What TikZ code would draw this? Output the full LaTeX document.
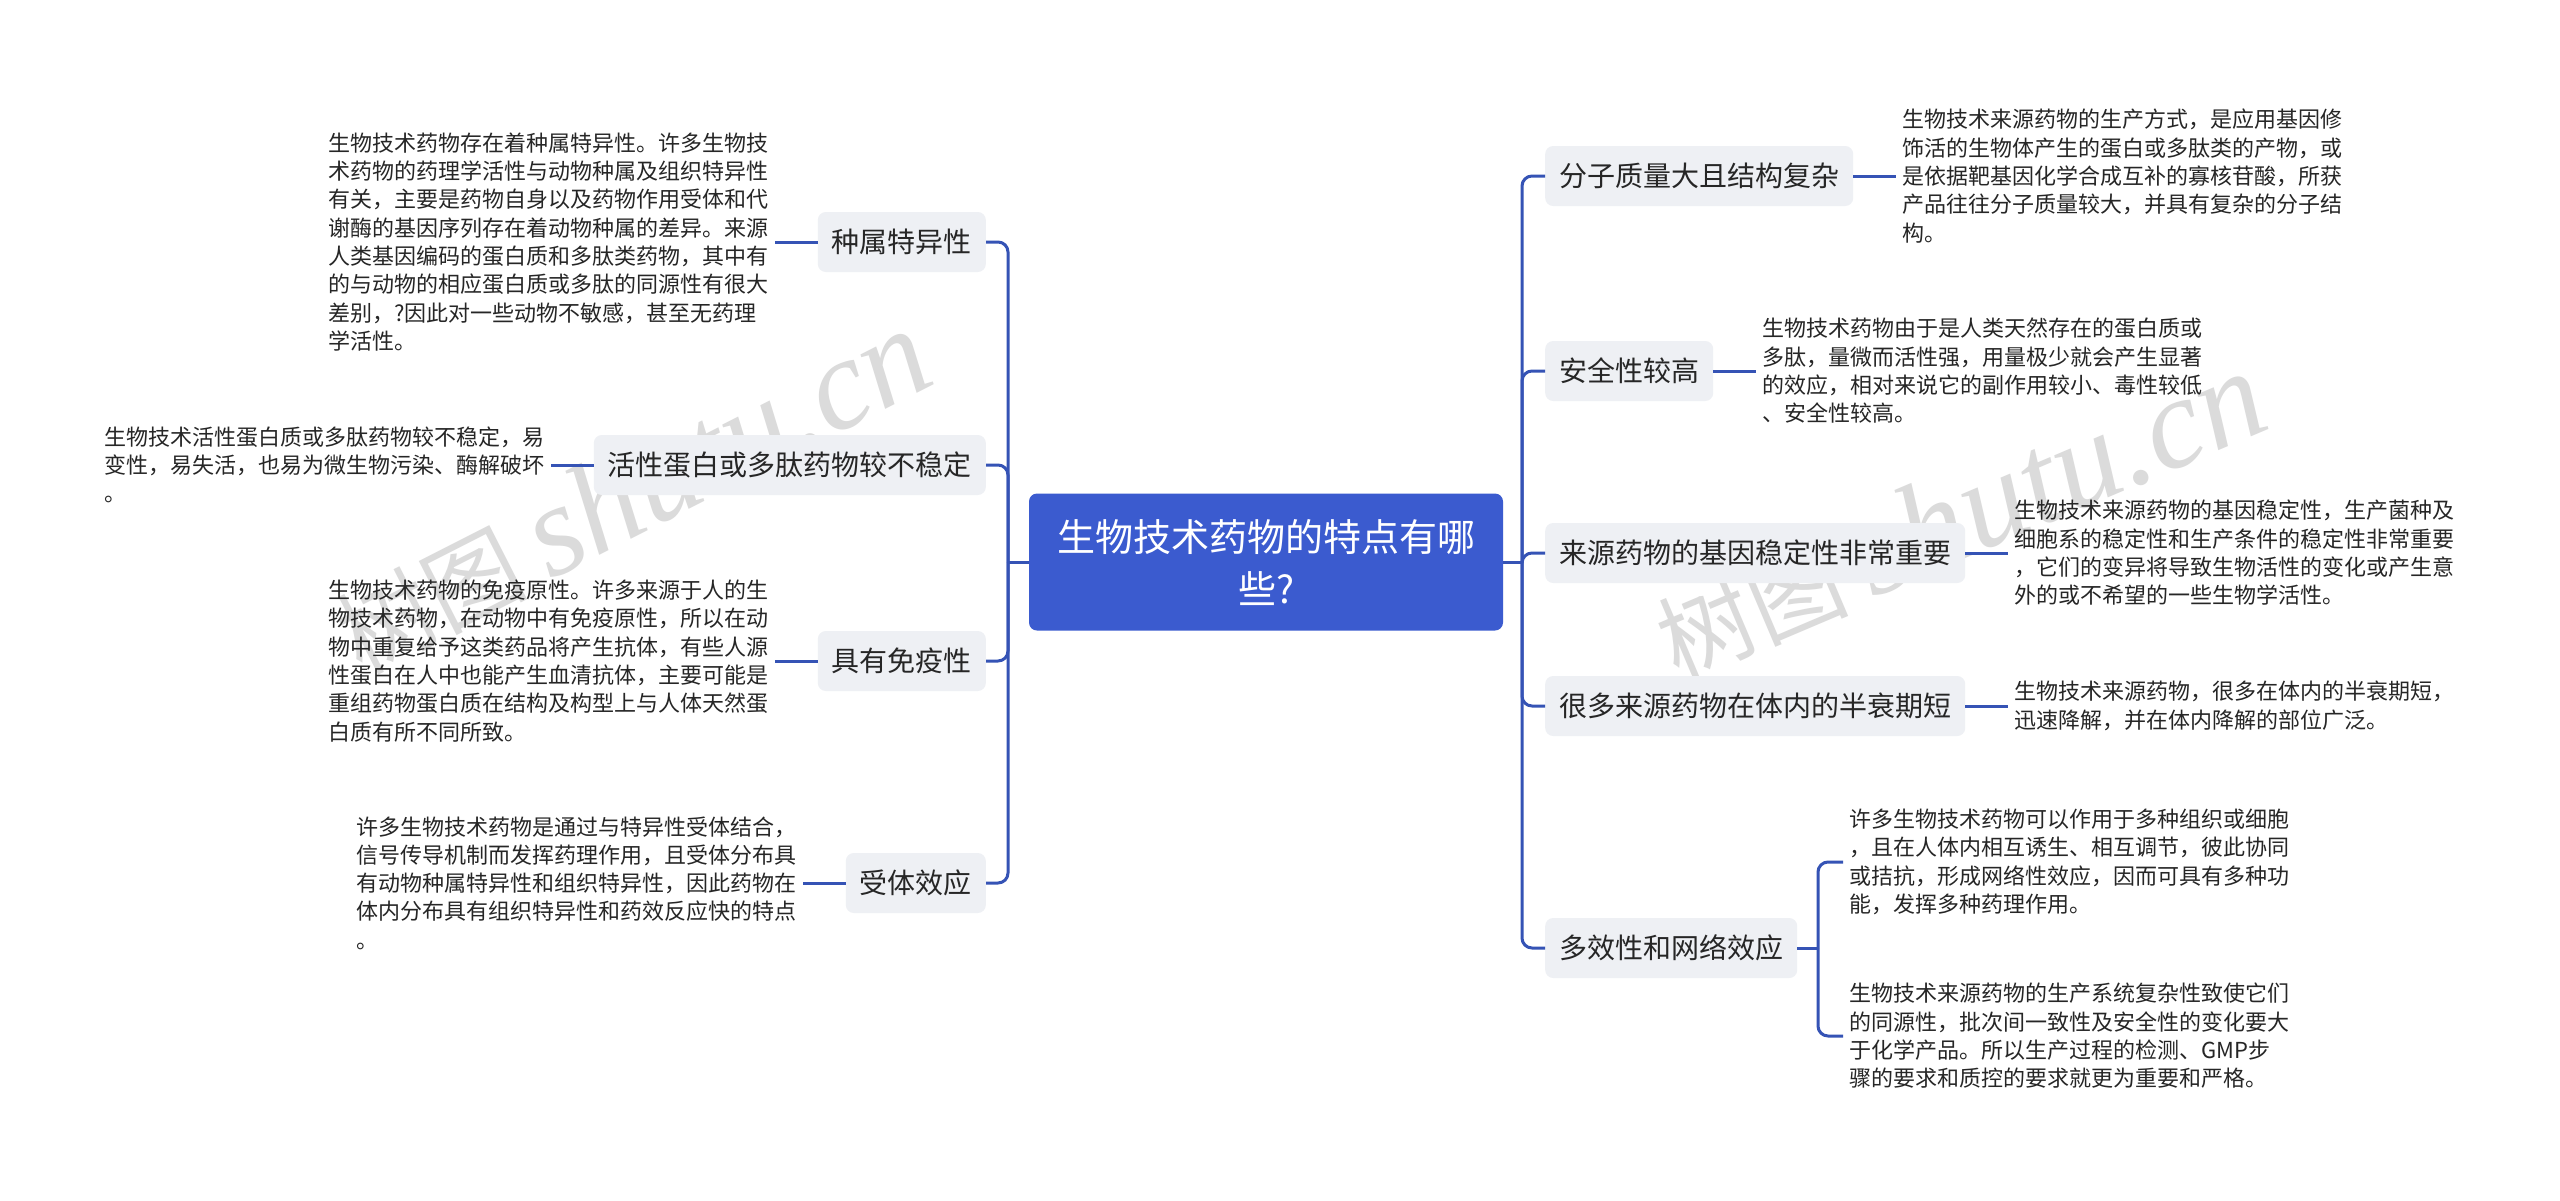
\documentclass[tikz,border=0pt]{standalone}
\usepackage{fontspec}
\setmainfont{Noto Sans CJK SC}
\newfontfamily\wmfont{Liberation Serif}
\usepackage{xcolor}
\usetikzlibrary{positioning}
\definecolor{rootblue}{HTML}{3B5BCF}
\definecolor{linkblue}{HTML}{3553B5}
\definecolor{catgray}{HTML}{EEF0F4}
\definecolor{txtgray}{HTML}{262626}

\begin{document}
\begin{tikzpicture}[
  x=1pt, y=-1pt,
  node distance = 43pt,
  root/.style  = {fill=rootblue, rounded corners=8pt, text=white, align=center,
                  minimum width=474pt, minimum height=137pt,
                  font=\fontsize{38}{52}\selectfont},
  cat/.style   = {fill=catgray, rounded corners=8pt, text=txtgray,
                  minimum height=60pt, inner xsep=14pt,
                  font=\fontsize{28}{34}\selectfont},
  leaf/.style  = {align=left, inner sep=6pt, text=txtgray,
                  font=\fontsize{22}{28.3}\selectfont},
  link/.style  = {draw=linkblue, line width=3pt, rounded corners=10pt},
  wmark/.style = {text=black!14, font=\fontsize{95}{95}\selectfont}
]
  \fill[white] (0,0) rectangle (2560,1200);
  \useasboundingbox (0,0) rectangle (2560,1200);

  \node[wmark, rotate=27] (wm1) at (632,492) {树图 {\wmfont\itshape\fontsize{130}{130}\selectfont shutu.cn}};
  \node[wmark, rotate=23] (wm2) at (1960,516) {树图 {\wmfont\itshape\fontsize{130}{130}\selectfont shutu.cn}};

  \node[root] (root) at (1266,562) {生物技术药物的特点有哪\\些?};
  \coordinate (lhub) at (1008,562);
  \coordinate (rhub) at (1522,562);

  \node[cat, anchor=east] (spec)  at (986,242) {种属特异性};
  \node[cat, anchor=east] (unst)  at (986,465) {活性蛋白或多肽药物较不稳定};
  \node[cat, anchor=east] (immu)  at (986,661) {具有免疫性};
  \node[cat, anchor=east] (recp)  at (986,883) {受体效应};

  \node[cat, anchor=west] (mass)  at (1545,176) {分子质量大且结构复杂};
  \node[cat, anchor=west] (safe)  at (1545,371) {安全性较高};
  \node[cat, anchor=west] (gene)  at (1545,553) {来源药物的基因稳定性非常重要};
  \node[cat, anchor=west] (half)  at (1545,706) {很多来源药物在体内的半衰期短};
  \node[cat, anchor=west] (multi) at (1545,948) {多效性和网络效应};
  \coordinate (ehub) at (1818,948);

  \node[leaf, left=of spec] (specT) {生物技术药物存在着种属特异性。许多生物技\\术药物的药理学活性与动物种属及组织特异性\\有关，主要是药物自身以及药物作用受体和代\\谢酶的基因序列存在着动物种属的差异。来源\\人类基因编码的蛋白质和多肽类药物，其中有\\的与动物的相应蛋白质或多肽的同源性有很大\\差别，?因此对一些动物不敏感，甚至无药理\\学活性。};
  \node[leaf, left=of unst] (unstT) {生物技术活性蛋白质或多肽药物较不稳定，易\\变性，易失活，也易为微生物污染、酶解破坏\\。};
  \node[leaf, left=of immu] (immuT) {生物技术药物的免疫原性。许多来源于人的生\\物技术药物，在动物中有免疫原性，所以在动\\物中重复给予这类药品将产生抗体，有些人源\\性蛋白在人中也能产生血清抗体，主要可能是\\重组药物蛋白质在结构及构型上与人体天然蛋\\白质有所不同所致。};
  \node[leaf, left=of recp] (recpT) {许多生物技术药物是通过与特异性受体结合，\\信号传导机制而发挥药理作用，且受体分布具\\有动物种属特异性和组织特异性，因此药物在\\体内分布具有组织特异性和药效反应快的特点\\。};

  \node[leaf, right=of mass] (massT) {生物技术来源药物的生产方式，是应用基因修\\饰活的生物体产生的蛋白或多肽类的产物，或\\是依据靶基因化学合成互补的寡核苷酸，所获\\产品往往分子质量较大，并具有复杂的分子结\\构。};
  \node[leaf, right=of safe] (safeT) {生物技术药物由于是人类天然存在的蛋白质或\\多肽，量微而活性强，用量极少就会产生显著\\的效应，相对来说它的副作用较小、毒性较低\\、安全性较高。};
  \node[leaf, right=of gene] (geneT) {生物技术来源药物的基因稳定性，生产菌种及\\细胞系的稳定性和生产条件的稳定性非常重要\\，它们的变异将导致生物活性的变化或产生意\\外的或不希望的一些生物学活性。};
  \node[leaf, right=of half] (halfT) {生物技术来源药物，很多在体内的半衰期短，\\迅速降解，并在体内降解的部位广泛。};
  \node[leaf, anchor=west] (multiA) at (1843,862) {许多生物技术药物可以作用于多种组织或细胞\\，且在人体内相互诱生、相互调节，彼此协同\\或拮抗，形成网络性效应，因而可具有多种功\\能，发挥多种药理作用。};
  \node[leaf, anchor=west] (multiB) at (1843,1036) {生物技术来源药物的生产系统复杂性致使它们\\的同源性，批次间一致性及安全性的变化要大\\于化学产品。所以生产过程的检测、GMP步\\骤的要求和质控的要求就更为重要和严格。};

  \draw[link] (root.west) -- (lhub);
  \draw[link] (root.east) -- (rhub);
  \foreach \c in {spec, unst, immu, recp}
    \draw[link] (lhub) |- (\c.east);
  \foreach \c in {mass, safe, gene, half, multi}
    \draw[link] (rhub) |- (\c.west);
  \foreach \c in {spec, unst, immu, recp}
    \draw[link] (\c.west) -- (\c T.east);
  \foreach \c in {mass, safe, gene, half}
    \draw[link] (\c.east) -- (\c T.west);
  \draw[link] (multi.east) -- (ehub);
  \draw[link] (ehub) |- (multiA.west);
  \draw[link] (ehub) |- (multiB.west);
\end{tikzpicture}
\end{document}
